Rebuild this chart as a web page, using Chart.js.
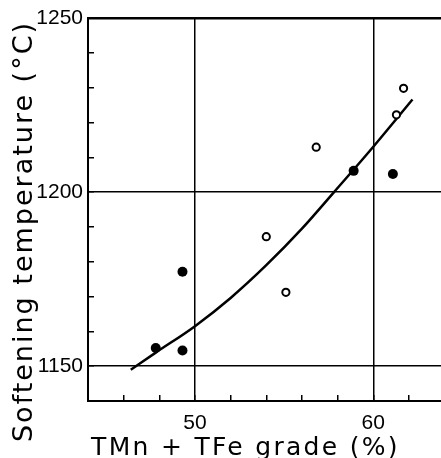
<!DOCTYPE html>
<html>
<head>
<meta charset="utf-8">
<script src="https://cdn.jsdelivr.net/npm/chart.js@4"></script>
<style>
  html, body { margin: 0; padding: 0; background: #fff; }
  #wrap { width: 441px; height: 458px; }
</style>
</head>
<body>
<div id="wrap"><canvas id="myChart" width="441" height="458"></canvas></div>
<script>
// solid points (x = TMn + TFe grade %, y = softening temperature °C)
const filledX = [47.8, 49.3, 49.3, 58.9, 61.1];
const filledY = [1155.2, 1154.5, 1177.1, 1206.1, 1205.2];

// open points
const openX = [54.0, 55.1, 56.8, 61.3, 61.7];
const openY = [1187.2, 1171.2, 1212.9, 1222.2, 1229.8];

// hand-drawn trend curve
const curveX = [46.4, 47.8, 50.0, 52.0, 54.0, 56.0, 57.8, 59.8, 62.2];
const curveY = [1149.0, 1153.9, 1161.5, 1169.6, 1179.0, 1189.5, 1200.0, 1211.8, 1226.6];

const xLabels = [50, 60];
const yLabels = [1150, 1200, 1250];
const xGrid = [50, 60];
const yGrid = [1150, 1200, 1250];

const toPts = (xs, ys) => xs.map((x, i) => ({ x: x, y: ys[i] }));

const ctx = document.getElementById('myChart').getContext('2d');

// loose letter spacing + small nudge on the axis titles (the scan has loose type)
const titleStyle = {
    x: { gap: '2.3px', dx: -19, dy: 3 },
    y: { gap: '2px', dx: 0, dy: 22 }
};
const titleSpacing = {
    id: 'titleSpacing',
    afterLayout(chart) {
        Object.keys(titleStyle).forEach(id => {
            const s = chart.scales[id];
            if (!s || s._spaced) return;
            const orig = s.drawTitle;
            const st = titleStyle[id];
            s.drawTitle = function () {
                this.ctx.save();
                this.ctx.letterSpacing = st.gap;
                this.ctx.translate(st.dx, st.dy);
                orig.apply(this, arguments);
                this.ctx.restore();
            };
            s._spaced = true;
        });
    }
};

const chart = new Chart(ctx, {
    type: 'scatter',
    data: {
        datasets: [{
            data: toPts(filledX, filledY),
            pointRadius: 5,
            pointBackgroundColor: '#000',
            pointBorderColor: '#000',
            pointBorderWidth: 0,
            order: 1
        }, {
            data: toPts(openX, openY),
            pointRadius: 3.6,
            pointBackgroundColor: '#fff',
            pointBorderColor: '#000',
            pointBorderWidth: 2,
            order: 1
        }, {
            type: 'line',
            data: toPts(curveX, curveY),
            borderColor: '#000',
            borderWidth: 2.5,
            pointRadius: 0,
            cubicInterpolationMode: 'monotone',
            fill: false,
            order: 2
        }]
    },
    options: {
        responsive: false,
        animation: false,
        layout: { autoPadding: false, padding: { top: 18, right: 0, bottom: 0, left: 0 } },
        plugins: { legend: { display: false }, tooltip: { enabled: false } },
        scales: {
            x: {
                type: 'linear',
                min: 44,
                max: 63.8,
                afterFit: s => { s.height = 57; s.paddingLeft = 0; s.paddingRight = 0; },
                ticks: {
                    stepSize: 2,
                    includeBounds: false,
                    autoSkip: false,
                    maxRotation: 0,
                    padding: 16,
                    color: '#000',
                    font: { family: 'Liberation Sans', size: 21 },
                    callback: v => xLabels.includes(v) ? String(v) : ''
                },
                grid: {
                    lineWidth: 1.5,
                    color: c => xGrid.includes(c.tick && c.tick.value) ? '#000' : 'rgba(0,0,0,0)',
                    tickColor: '#000',
                    tickLength: -6,
                    tickWidth: 1.5
                },
                border: { color: '#000', width: 2 },
                title: {
                    display: true,
                    text: 'TMn + TFe grade (%)',
                    color: '#000',
                    font: { family: 'DejaVu Sans', size: 25, lineHeight: 1 },
                    padding: { top: 0, bottom: 0 }
                }
            },
            y: {
                min: 1140,
                max: 1250,
                afterFit: s => { s.width = 88; s.paddingTop = 0; s.paddingBottom = 0; },
                ticks: {
                    stepSize: 10,
                    autoSkip: false,
                    padding: 11,
                    color: '#000',
                    font: { family: 'Liberation Sans', size: 21 },
                    callback: v => yLabels.includes(v) ? String(v) : ''
                },
                grid: {
                    lineWidth: c => (c.tick && c.tick.value === 1250) ? 2.5 : 1.5,
                    color: c => yGrid.includes(c.tick && c.tick.value) ? '#000' : 'rgba(0,0,0,0)',
                    tickColor: '#000',
                    tickLength: -6,
                    tickWidth: 1.5
                },
                border: { color: '#000', width: 2 },
                title: {
                    display: true,
                    text: 'Softening temperature (°C)',
                    color: '#000',
                    font: { family: 'DejaVu Sans', size: 27, lineHeight: 1 },
                    padding: { top: 11, bottom: 0 }
                }
            }
        }
    },
    plugins: [titleSpacing]
});
</script>
</body>
</html>
